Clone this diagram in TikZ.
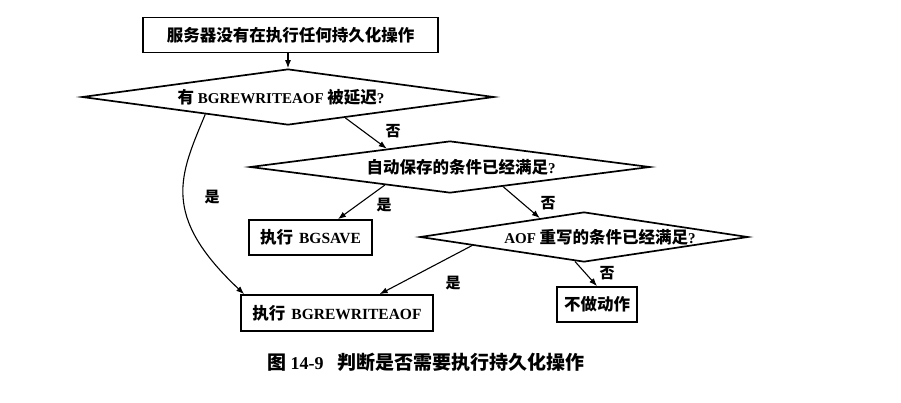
\documentclass[tikz,border=0pt]{standalone}
\usepackage{fontspec}
\setmainfont{Liberation Serif}
\newfontfamily\cjk{Noto Sans CJK SC}
\newcommand\zh[1]{{\cjk\fontsize{16.5}{18}\selectfont #1}}
\usetikzlibrary{shapes.geometric,arrows.meta,calc}

\begin{document}
\begin{tikzpicture}[x=1pt,y=-1pt,
  box/.style={draw,line width=1.7pt,inner sep=0,minimum height=35pt,
    font=\bfseries\fontsize{15.5}{15.5}\selectfont},
  decision/.style={draw,shape=diamond,line width=1.7pt,inner sep=0},
  txt/.style={inner sep=0,font=\bfseries\fontsize{15}{15}\selectfont},
  flow/.style={line width=1.1pt,-{Latex[length=8pt,width=6pt]}},
  yn/.style={inner sep=0,font=\cjk\bfseries\fontsize{15}{15}\selectfont}]
\useasboundingbox (0,0) rectangle (901,402);

% boxes and decisions
\node[box,minimum width=295pt] (start) at (290.5,35) {\zh{服务器没有在执行任何持久化操作}};
\node[decision,minimum width=412pt,minimum height=56pt] (d1) at (288,97) {};
\node[txt] (d1t) at (281,97) {\zh{有} BGREWRITEAOF \zh{被延迟}?};
\node[decision,minimum width=400pt,minimum height=52pt] (d2) at (450,167) {};
\node[txt] (d2t) at (461,167) {\zh{自动保存的条件已经满足}?};
\node[decision,minimum width=328pt,minimum height=50pt] (d3) at (584,237) {};
\node[txt] (d3t) at (600,237) {AOF \zh{重写的条件已经满足}?};
\node[box,minimum width=123pt] (bgsave) at (310.5,237.5) {\zh{执行}\hspace{6pt}BGSAVE};
\node[box,minimum width=192pt,minimum height=36pt] (bgrw) at (337,313) {\zh{执行}\hspace{6pt}BGREWRITEAOF};
\node[box,minimum width=80pt] (noop) at (597,304.5) {\zh{不做动作}};

% connectors
\draw[flow] (d1.north |- start.south) -- (d1.north);
\draw[flow] ($(d1.south)!0.277!(d1.east)$) -- ($(d2.north)!0.315!(d2.west)$);
\draw[flow] ($(d1.south)!0.4!(d1.west)$) .. controls (180,175) and (160,215) .. ($(bgrw.north west)+(4,0)$);
\draw[flow] ($(d2.south)!0.325!(d2.west)$) -- ($(bgsave.north west)!0.72!(bgsave.north east)$);
\draw[flow] ($(d2.south)!0.265!(d2.east)$) -- ($(d3.north)!0.268!(d3.west)$);
\draw[flow] ($(d3.south)!0.677!(d3.west)$) -- ($(bgrw.north west)!0.72!(bgrw.north east)$);
\draw[flow] ($(d3.south)!0.055!(d3.west)$) -- (noop.north);

% branch labels
\node[yn] (n1) at (393,131) {否};
\node[yn] (y1) at (212,197) {是};
\node[yn] (y2) at (384,205) {是};
\node[yn] (n2) at (548,203) {否};
\node[yn] (y3) at (453,283) {是};
\node[yn] (n3) at (607,273) {否};

% caption
\node[anchor=west,inner sep=0,font=\bfseries\fontsize{18}{18}\selectfont] (cap) at (267,362)
  {{\cjk\fontsize{19}{19}\selectfont 图} 14-9\hspace{14pt}{\cjk\fontsize{19}{19}\selectfont 判断是否需要执行持久化操作}};
\end{tikzpicture}
\end{document}
